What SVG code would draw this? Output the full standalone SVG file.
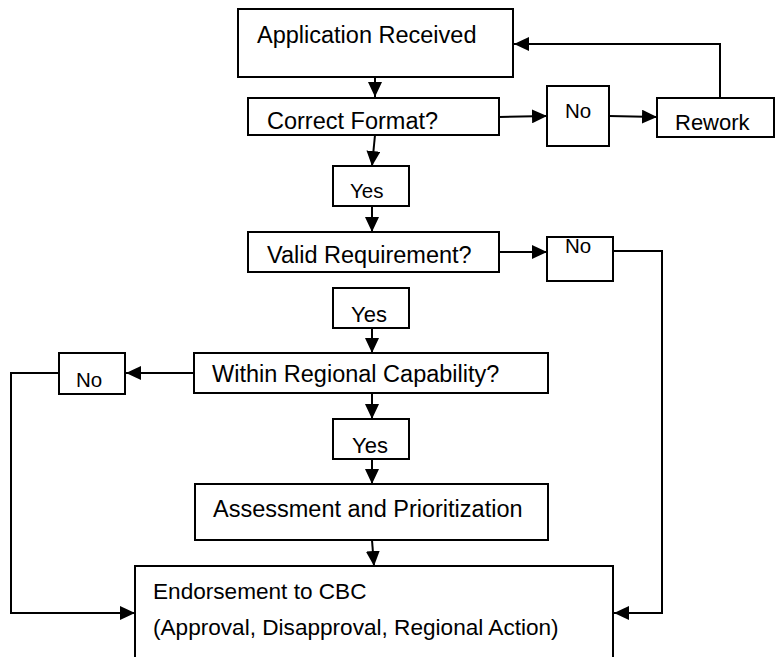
<svg xmlns="http://www.w3.org/2000/svg" width="775" height="657" viewBox="0 0 775 657">
<style>
.box{fill:#fff;stroke:#000;stroke-width:2}
.c{fill:none;stroke:#000;stroke-width:2}
text{font-family:"Liberation Sans",Arial,sans-serif;fill:#000}
.m{font-size:23.5px}
.e{font-size:22.6px}
.s{font-size:20.5px}
.y{font-size:22px}
</style>
<defs>
<marker id="ah" markerUnits="userSpaceOnUse" markerWidth="16" markerHeight="14" viewBox="0 0 16 14" refX="15" refY="7" orient="auto">
<path d="M0,0 L15,7 L0,14 Z" fill="#000"/>
</marker>
</defs>
<rect width="775" height="657" fill="#fff"/>
<g id="connectors">
<path class="c" d="M375,77 L375,97" marker-end="url(#ah)"/>
<path class="c" d="M499,117 L547,116" marker-end="url(#ah)"/>
<path class="c" d="M609,116 L657,117" marker-end="url(#ah)"/>
<path class="c" d="M720,98 L720,44 L514,44" marker-end="url(#ah)"/>
<path class="c" d="M375,135 L372,166" marker-end="url(#ah)"/>
<path class="c" d="M372,206 L372,232" marker-end="url(#ah)"/>
<path class="c" d="M499,252 L547,252" marker-end="url(#ah)"/>
<path class="c" d="M613,251 L662,251 L662,613 L614,613" marker-end="url(#ah)"/>
<path class="c" d="M372,328 L372,353" marker-end="url(#ah)"/>
<path class="c" d="M194,373 L126,373" marker-end="url(#ah)"/>
<path class="c" d="M59,373 L11,373 L11,613 L135,613" marker-end="url(#ah)"/>
<path class="c" d="M372,393 L372,419" marker-end="url(#ah)"/>
<path class="c" d="M372,459 L372,484" marker-end="url(#ah)"/>
<path class="c" d="M372,540 L374,566" marker-end="url(#ah)"/>
</g>
<g id="app-received"><rect class="box" x="238" y="9" width="275" height="68"/><text class="m" x="257" y="43">Application Received</text></g>
<g id="correct-format"><rect class="box" x="248" y="98" width="251" height="37"/><text class="m" x="267" y="129">Correct Format?</text></g>
<g id="no1"><rect class="box" x="547" y="86" width="62" height="60"/><text class="s" x="565" y="118">No</text></g>
<g id="rework"><rect class="box" x="657" y="98" width="117" height="39"/><text class="y" x="675" y="130">Rework</text></g>
<g id="yes1"><rect class="box" x="333" y="166" width="76" height="40"/><text class="s" x="350" y="198">Yes</text></g>
<g id="valid-requirement"><rect class="box" x="248" y="232" width="251" height="40"/><text class="m" x="267" y="263">Valid Requirement?</text></g>
<g id="no2"><rect class="box" x="547" y="237" width="66" height="44"/><text class="s" x="565" y="253">No</text></g>
<g id="yes2"><rect class="box" x="333" y="288" width="76" height="40"/><text class="y" x="351" y="322">Yes</text></g>
<g id="regional-capability"><rect class="box" x="194" y="353" width="354" height="40"/><text class="m" x="212" y="382">Within Regional Capability?</text></g>
<g id="no3"><rect class="box" x="59" y="353" width="66" height="41"/><text class="s" x="76" y="387">No</text></g>
<g id="yes3"><rect class="box" x="333" y="419" width="76" height="40"/><text class="y" x="352" y="453">Yes</text></g>
<g id="assessment"><rect class="box" x="195" y="484" width="353" height="56"/><text class="m" x="213" y="517">Assessment and Prioritization</text></g>
<g id="endorsement"><rect class="box" x="135" y="566" width="478" height="110"/><text class="e" x="153" y="599">Endorsement to CBC</text><text class="e" x="153" y="635">(Approval, Disapproval, Regional Action)</text></g>
</svg>
